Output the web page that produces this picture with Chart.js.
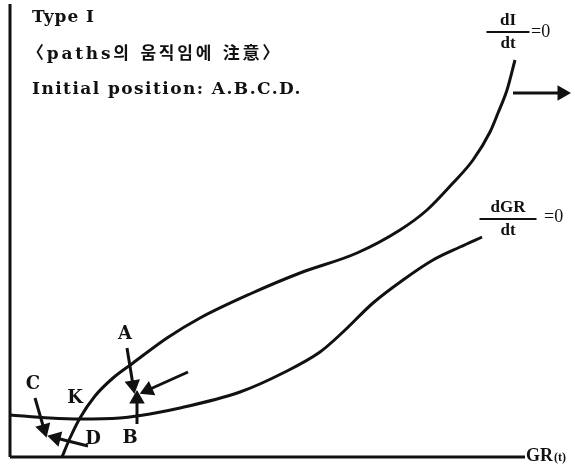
<!DOCTYPE html>
<html>
<head>
<meta charset="utf-8">
<script src="https://cdn.jsdelivr.net/npm/chart.js@4.4.0/dist/chart.umd.min.js"></script>
<style>
  html, body { margin: 0; padding: 0; background: #fff; }
  #wrap { width: 575px; height: 466px; }
</style>
</head>
<body>
<div id="wrap"><canvas id="diagram" width="575" height="466"></canvas></div>
<script>
// GR(t) runs along x, I along y, origin at the axes corner
const dIcurve = [
  {x: 52, y: 0}, {x: 60, y: 19}, {x: 70, y: 39}, {x: 85, y: 61}, {x: 103, y: 79},
  {x: 123, y: 94}, {x: 157, y: 119}, {x: 190, y: 139}, {x: 240, y: 163}, {x: 290, y: 184},
  {x: 347, y: 204}, {x: 390, y: 227}, {x: 417, y: 247}, {x: 443, y: 274}, {x: 463, y: 297},
  {x: 480, y: 325}, {x: 488, y: 344}, {x: 497, y: 367}, {x: 505, y: 397}
];
const dGRcurve = [
  {x: 0, y: 42}, {x: 40, y: 39}, {x: 70, y: 38}, {x: 110, y: 39}, {x: 127, y: 41},
  {x: 170, y: 49}, {x: 230, y: 65}, {x: 273, y: 84}, {x: 310, y: 105}, {x: 333, y: 125},
  {x: 363, y: 154}, {x: 393, y: 177}, {x: 423, y: 197}, {x: 450, y: 210}, {x: 472, y: 220}
];
const axisX = [{x: 0, y: 0}, {x: 515, y: 0}];
const axisY = [{x: 0, y: 0}, {x: 0, y: 453}];

// path arrows: tail -> head
const arrows = [
  {from: {x: 117, y: 109}, to: {x: 123, y: 72}},   // A
  {from: {x: 178, y: 85},  to: {x: 138, y: 67}},   // incoming
  {from: {x: 127, y: 33},  to: {x: 127, y: 58}},   // B
  {from: {x: 25, y: 59},   to: {x: 34, y: 28}},    // C
  {from: {x: 78, y: 11},   to: {x: 46, y: 19}},    // D
  {from: {x: 503, y: 364}, to: {x: 552, y: 364}}   // right
];

const pointNames = ['A', 'B', 'C', 'D', 'K'];
const pointSpots = [{x: 115, y: 123}, {x: 120, y: 19}, {x: 23, y: 73}, {x: 83, y: 18}, {x: 65, y: 59}];

const headerLines = ['Type Ⅰ', '〈paths의 움직임에 注意〉', 'Initial position: A.B.C.D.'];
const headerSpots = [{x: 22, y: 439, w: 63}, {x: 17, y: 402, w: 255}, {x: 22, y: 367, w: 270}];

const ink = '#111';
const serif = '"DejaVu Serif", "Noto Sans CJK KR", serif';
const plainSerif = '"Liberation Serif", serif';

function headAngle(a) {
  // y grows upward in data, downward on screen
  return Math.atan2(a.to.x - a.from.x, a.to.y - a.from.y) * 180 / Math.PI;
}

const curveStyle = {
  showLine: true, borderColor: ink, borderWidth: 3, pointRadius: 0,
  tension: 0.4, cubicInterpolationMode: 'monotone', fill: false
};

const datasets = [
  Object.assign({label: 'dI/dt=0', data: dIcurve}, curveStyle),
  Object.assign({label: 'dGR/dt=0', data: dGRcurve}, curveStyle),
  {label: 'x axis', data: axisX, showLine: true, borderColor: ink, borderWidth: 3, pointRadius: 0},
  {label: 'y axis', data: axisY, showLine: true, borderColor: ink, borderWidth: 3, pointRadius: 0}
];
arrows.forEach((a, i) => {
  datasets.push({
    label: 'arrow' + i,
    data: [a.from, a.to],
    showLine: true,
    borderColor: ink,
    borderWidth: 3,
    pointStyle: 'triangle',
    pointRadius: [0, 6],
    pointRotation: [0, headAngle(a)],
    pointBackgroundColor: ink,
    pointBorderColor: ink
  });
});

// spread (or squeeze) letters so the line fills the width it has in the scan
function spreadText(ctx, text, px, py, width) {
  ctx.letterSpacing = '0px';
  const m = ctx.measureText(text).width;
  const n = Array.from(text).length;
  ctx.letterSpacing = ((width - m) / n).toFixed(2) + 'px';
  ctx.fillText(text, px, py);
  ctx.letterSpacing = '0px';
}

function fraction(ctx, x, y, num, den, cx, cy, bar, eqX, eqY) {
  const px = x.getPixelForValue(cx), py = y.getPixelForValue(cy);
  ctx.textAlign = 'center';
  ctx.font = 'bold 17px ' + plainSerif;
  ctx.fillText(num, px, py - 11);
  ctx.fillText(den, px, py + 12);
  ctx.fillRect(px - bar / 2, py - 1, bar, 2);
  ctx.textAlign = 'left';
  ctx.font = '18px ' + plainSerif;
  ctx.fillText('=0', x.getPixelForValue(eqX), y.getPixelForValue(eqY));
}

const labelPlugin = {
  id: 'diagramText',
  afterDatasetsDraw(chart) {
    const {ctx, scales: {x, y}} = chart;
    ctx.save();
    ctx.fillStyle = ink;
    ctx.textBaseline = 'middle';

    ctx.textAlign = 'left';
    ctx.font = 'bold 17px ' + serif;
    headerLines.forEach((t, i) => {
      const s = headerSpots[i];
      spreadText(ctx, t, x.getPixelForValue(s.x), y.getPixelForValue(s.y), s.w);
    });

    ctx.textAlign = 'center';
    ctx.font = 'bold 18px ' + serif;
    pointNames.forEach((t, i) => {
      ctx.fillText(t, x.getPixelForValue(pointSpots[i].x), y.getPixelForValue(pointSpots[i].y));
    });

    fraction(ctx, x, y, 'dI', 'dt', 498, 425, 43, 521, 425);
    fraction(ctx, x, y, 'dGR', 'dt', 498, 238, 57, 534, 240);

    // axis title
    ctx.textAlign = 'left';
    ctx.font = 'bold 18px ' + plainSerif;
    const gx = x.getPixelForValue(515), gy = y.getPixelForValue(1);
    ctx.fillText('GR', gx + 1, gy);
    const gw = ctx.measureText('GR').width;
    ctx.font = 'bold 12px ' + plainSerif;
    ctx.fillText('(t)', gx + 2 + gw, gy + 2);
    ctx.restore();
  }
};

new Chart(document.getElementById('diagram'), {
  type: 'scatter',
  data: {datasets: datasets},
  options: {
    responsive: false,
    animation: false,
    layout: {padding: 0, autoPadding: false},
    plugins: {legend: {display: false}, tooltip: {enabled: false}},
    scales: {
      x: {type: 'linear', display: false, min: -10, max: 565},
      y: {type: 'linear', display: false, min: -9, max: 457}
    }
  },
  plugins: [labelPlugin]
});
</script>
</body>
</html>
